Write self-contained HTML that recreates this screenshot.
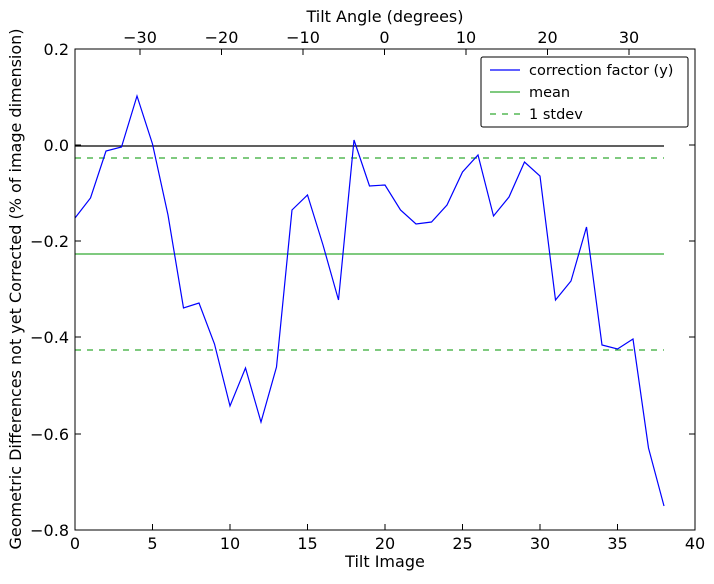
<!DOCTYPE html>
<html><head><style>body{margin:0;background:#fff}svg text{font-family:"DejaVu Sans",sans-serif;font-size:16px;fill:#000}svg text.lg{font-size:14.5px}</style></head>
<body>
<svg width="714" height="579" xmlns="http://www.w3.org/2000/svg">
<rect width="714" height="579" fill="#fff"/>
<line x1="75" y1="146" x2="664" y2="146" stroke="#000" stroke-width="1.2"/>
<line x1="75" y1="254" x2="664" y2="254" stroke="#3a3" stroke-width="1.2"/>
<line x1="75" y1="158" x2="664" y2="158" stroke="#3a3" stroke-width="1.2" stroke-dasharray="6,6"/>
<line x1="75" y1="350" x2="664" y2="350" stroke="#3a3" stroke-width="1.2" stroke-dasharray="6,6"/>
<polyline fill="none" stroke="#00f" stroke-width="1.2" points="75,218 90.5,198 106,151 121.5,147 137,96 152.5,144 168,215 183.5,308 199,303 214.5,344 230,406 245.5,368 261,422 276.5,367 292,210 307.5,195 323,245 338.5,300 354,140 369.5,186 385,185 400.5,210 416,224 431.5,222 447,205 462.5,172 478,155 493.5,216 509,197 524.5,162 540,176 555.5,300 571,281 586.5,227 602,345 617.5,349 633,339 648.5,448 664,506"/>
<rect x="75" y="49" width="620" height="481" fill="none" stroke="#000" stroke-width="1"/>
<g stroke="#000">
<line x1="75" y1="530" x2="75" y2="524"/><line x1="152.5" y1="530" x2="152.5" y2="524"/><line x1="230" y1="530" x2="230" y2="524"/><line x1="307.5" y1="530" x2="307.5" y2="524"/><line x1="385" y1="530" x2="385" y2="524"/><line x1="462.5" y1="530" x2="462.5" y2="524"/><line x1="540" y1="530" x2="540" y2="524"/><line x1="617.5" y1="530" x2="617.5" y2="524"/>
<line x1="75" y1="49" x2="81" y2="49"/><line x1="75" y1="145" x2="81" y2="145"/><line x1="75" y1="241" x2="81" y2="241"/><line x1="75" y1="337" x2="81" y2="337"/><line x1="75" y1="434" x2="81" y2="434"/>
<line x1="695" y1="145" x2="689" y2="145"/><line x1="695" y1="241" x2="689" y2="241"/><line x1="695" y1="337" x2="689" y2="337"/><line x1="695" y1="434" x2="689" y2="434"/>
<line x1="140" y1="49" x2="140" y2="55"/><line x1="221.5" y1="49" x2="221.5" y2="55"/><line x1="303" y1="49" x2="303" y2="55"/><line x1="384.5" y1="49" x2="384.5" y2="55"/><line x1="466" y1="49" x2="466" y2="55"/><line x1="547.5" y1="49" x2="547.5" y2="55"/><line x1="629" y1="49" x2="629" y2="55"/>
</g>
<g text-anchor="middle">
<text x="75" y="549">0</text><text x="152.5" y="549">5</text><text x="230" y="549">10</text><text x="307.5" y="549">15</text><text x="385" y="549">20</text><text x="462.5" y="549">25</text><text x="540" y="549">30</text><text x="617.5" y="549">35</text><text x="695" y="549">40</text>
<text x="140" y="43">−30</text><text x="221.5" y="43">−20</text><text x="303" y="43">−10</text><text x="384.5" y="43">0</text><text x="466" y="43">10</text><text x="547.5" y="43">20</text><text x="629" y="43">30</text>
<text x="385" y="567">Tilt Image</text><text x="385" y="22">Tilt Angle (degrees)</text>
</g>
<g text-anchor="end">
<text x="69" y="55">0.2</text><text x="69" y="151">0.0</text><text x="69" y="247">−0.2</text><text x="69" y="343">−0.4</text><text x="69" y="440">−0.6</text><text x="69" y="536">−0.8</text>
</g>
<text transform="translate(21,289) rotate(-90)" text-anchor="middle">Geometric Differences not yet Corrected (% of image dimension)</text>
<rect x="481" y="57" width="207" height="70" fill="#fff" stroke="#000" rx="2"/>
<line x1="490" y1="70" x2="520" y2="70" stroke="#00f" stroke-width="1.2"/><text class="lg" x="529" y="75">correction factor (y)</text>
<line x1="490" y1="92" x2="520" y2="92" stroke="#3a3" stroke-width="1.2"/><text class="lg" x="529" y="97">mean</text>
<line x1="490" y1="114" x2="520" y2="114" stroke="#3a3" stroke-width="1.2" stroke-dasharray="6,6"/><text class="lg" x="529" y="119">1 stdev</text>
</svg>
</body></html>
